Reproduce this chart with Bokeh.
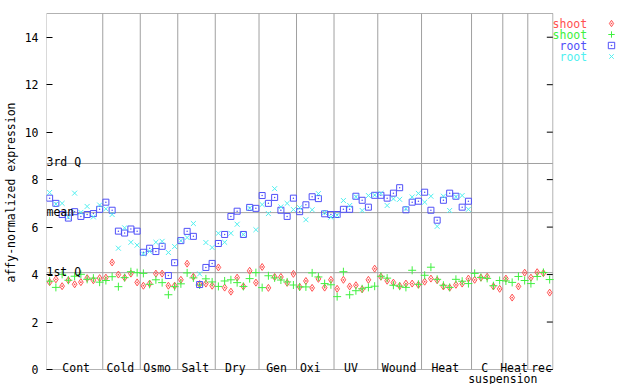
import numpy as np
from bokeh.plotting import figure
from bokeh.models import (Label, Legend, LegendItem, Range1d, BoxAnnotation,
                          ColumnDataSource, FixedTicker)
from bokeh.embed import file_html
from bokeh.resources import INLINE

# ---------------- data ----------------
categories = ["Cont", "Cold", "Osmo", "Salt", "Dry", "Gen", "Oxi", "UV",
              "Wound", "Heat", "C", "Heat", "rec"]
category_label_x = [4.75, 11.8, 17.7, 23.8, 30.2, 36.8, 42.2, 48.7, 56.4,
                    63.8, 70.1, 74.8, 79.2]
section_bounds = [9, 15, 21, 27, 34, 40, 46, 53, 60, 68, 73, 77]
sub_label = "suspension"
sub_label_x = 73.0

quartile_names = ["3rd Q", "mean", "1st Q"]
quartile_values = [8.68, 6.61, 4.08]

series_names = ["shoot", "shoot", "root", "root"]

shoot_red = [3.68, 3.80, 3.51, 3.76, 3.59, 3.68, 3.85, 3.76, 3.85,
             3.87, 4.51, 4.00, 3.87, 4.04, 3.67,
             3.53, 3.62, 4.04, 4.04, 3.53, 3.53,
             3.78, 4.46, 3.91, 3.60, 3.62, 3.53,
             4.30, 3.45, 3.28, 3.87, 3.50, 4.16, 3.66,
             4.32, 3.44, 3.90, 3.90, 3.65, 4.03,
             3.48, 3.73, 3.44, 3.82, 3.45, 3.78,
             3.40, 3.78, 3.50, 3.55, 3.38, 3.78, 4.25,
             3.91, 3.74, 3.66, 3.52, 3.62, 3.62, 3.57,
             3.70, 3.83, 3.76, 3.50, 3.45, 3.57, 3.62, 3.83,
             3.78, 3.87, 3.91, 3.50, 3.40,
             3.83, 3.03, 3.50, 4.08,
             3.87, 4.10, 4.06, 3.24]

shoot_green = [3.72, 3.46, 4.01, 3.76, 3.93, 4.01, 3.80, 3.85, 3.68,
               3.75, 3.91, 3.49, 3.87, 4.12, 4.08,
               4.05, 3.59, 3.78, 3.66, 3.15, 3.49,
               3.61, 4.07, 3.86, 3.56, 3.82, 3.69,
               3.50, 3.73, 3.78, 3.66, 3.50, 3.83, 4.08,
               3.45, 3.95, 3.86, 3.77, 3.69, 3.56,
               3.48, 3.48, 4.07, 3.90, 3.62, 3.57,
               3.07, 4.12, 3.15, 3.32, 3.40, 3.46, 3.51,
               3.93, 3.85, 3.55, 3.51, 3.46, 4.18, 3.59,
               3.97, 4.31, 3.80, 3.55, 3.46, 3.80, 3.72, 3.62,
               4.05, 3.88, 3.84, 3.53, 3.75,
               3.73, 3.67, 3.92, 3.75,
               3.62, 3.92, 4.09, 3.79]

root_blue = [7.22, 7.00, 6.53, 6.38, 6.65, 6.45, 6.53, 6.57, 6.75,
             7.05, 6.71, 5.83, 5.75, 5.92, 5.83,
             4.94, 5.11, 4.97, 5.19, 3.96, 4.50,
             5.43, 5.82, 5.61, 3.58, 4.30, 4.47,
             5.31, 5.69, 6.45, 6.67, 5.69, 6.83, 6.79,
             7.33, 7.00, 7.25, 6.71, 6.45, 7.22,
             6.65, 6.94, 7.28, 7.20, 6.56, 6.53,
             6.53, 6.75, 6.75, 7.30, 7.13, 6.84, 7.34,
             7.34, 7.22, 7.43, 7.66, 6.73, 7.05, 7.09,
             7.47, 6.71, 6.29, 7.13, 7.43, 7.30, 6.84, 7.09]

root_cyan = [7.46, 6.97, 7.00, 6.42, 7.43, 6.62, 6.87, 6.43, 6.93,
             6.77, 6.53, 5.11, 5.97, 5.36, 5.24,
             4.87, 4.98, 5.36, 5.40, 4.93, 5.18,
             5.43, 5.56, 6.15, 4.03, 5.35, 5.14,
             5.74, 5.36, 5.74, 6.12, 5.69, 6.80, 5.89,
             6.95, 6.57, 7.62, 6.85, 7.00, 6.74,
             6.82, 6.31, 6.73, 7.41, 6.61, 6.42,
             6.50, 7.12, 6.91, 7.28, 6.70, 7.33, 7.35,
             7.42, 6.91, 7.19, 7.17, 6.78, 7.27, 7.42,
             7.05, 7.30, 6.03, 7.30, 6.70, 7.28, 7.33, 6.75]

y_ticks = [0, 2, 4, 6, 8, 10, 12, 14]
y_max = 15

# ---------------- layout (pixels) ----------------
W, H = 640, 384
BOX_L, BOX_R, BOX_T, BOX_B = 44, 552, 13, 369
n_x = len(shoot_red)
kx = (BOX_R - BOX_L) / n_x          # px per x unit
ky = (BOX_B - BOX_T) / y_max        # px per y unit


def dx(px):
    return (px - BOX_L) / kx


def dy(py):
    return (BOX_B - py) / ky


FONT = "DejaVu Sans Mono"
FS = "11.5px"
RED, GREEN, BLUE, CYAN = "#ff5050", "#40f040", "#5050f8", "#50f0f0"
GRAY = "#a0a0a0"

p = figure(width=W, height=H, output_backend="svg", toolbar_location=None,
           x_range=Range1d(0, dx(W)), y_range=Range1d(dy(H), dy(0)),
           min_border_left=BOX_L, min_border_right=0, min_border_top=0,
           min_border_bottom=0)
p.background_fill_color = "white"
p.border_fill_color = "white"
p.outline_line_color = None
p.xgrid.visible = False
p.ygrid.visible = False
p.xaxis.visible = False

ya = p.yaxis[0]
ya.ticker = FixedTicker(ticks=y_ticks)
ya.axis_line_color = None
ya.major_tick_in = 6
ya.major_tick_out = 0
ya.minor_tick_in = 0
ya.minor_tick_out = 0
ya.major_tick_line_color = "black"
ya.major_label_standoff = 8
ya.major_label_text_font = FONT
ya.major_label_text_font_size = FS
ya.major_label_text_color = "black"
ya.axis_label = "affy-normalized expression"
ya.axis_label_text_font = FONT
ya.axis_label_text_font_size = FS
ya.axis_label_text_font_style = "normal"
ya.axis_label_text_color = "black"
ya.axis_label_standoff = 4

# separator and quartile lines (only inside the plot box)
sep = ColumnDataSource(dict(x=section_bounds,
                            y0=[0] * len(section_bounds),
                            y1=[y_max] * len(section_bounds)))
p.segment(x0="x", y0="y0", x1="x", y1="y1", source=sep,
          line_color=GRAY, line_width=1)
qs = ColumnDataSource(dict(y=quartile_values,
                           x0=[0] * len(quartile_values),
                           x1=[n_x] * len(quartile_values)))
p.segment(x0="x0", y0="y", x1="x1", y1="y", source=qs,
          line_color=GRAY, line_width=1)

# right-hand inward ticks
rt = ColumnDataSource(dict(y=y_ticks, x0=[n_x] * len(y_ticks),
                           x1=[n_x - 6 / kx] * len(y_ticks)))
p.segment(x0="x0", y0="y", x1="x1", y1="y", source=rt,
          line_color="black", line_width=1)

# plot box
p.add_layout(BoxAnnotation(left=0, right=n_x, bottom=0, top=y_max,
                           fill_alpha=0, line_color="black", line_width=1,
                           level="underlay"))

for txt, q in zip(quartile_names, quartile_values):
    p.add_layout(Label(x=0, y=q, text=txt, text_font=FONT, text_font_size=FS,
                       text_align="left", text_baseline="alphabetic",
                       y_offset=1, text_color="black"))

for txt, xp in zip(categories, category_label_x):
    p.add_layout(Label(x=xp, y=0, text=txt, text_font=FONT, text_font_size=FS,
                       text_align="center", text_baseline="alphabetic",
                       y_offset=1.5, text_color="black"))
p.add_layout(Label(x=sub_label_x, y=dy(378), text=sub_label,
                   text_font=FONT, text_font_size=FS, text_align="center",
                   text_baseline="alphabetic", text_color="black"))

xs_shoot = np.arange(len(shoot_red)) + 0.5
xs_root = np.arange(len(root_blue)) + 0.5

r_red = p.scatter(xs_shoot, shoot_red, marker="diamond_dot", size=7,
                  line_color=RED, fill_color=None, line_width=1)
r_green = p.scatter(xs_shoot, shoot_green, marker="cross", size=8,
                    line_color=GREEN, line_width=1)
r_blue = p.scatter(xs_root, root_blue, marker="square_dot", size=6,
                   line_color=BLUE, fill_color=None, line_width=1)
r_cyan = p.scatter(xs_root, root_cyan, marker="x", size=7,
                   line_color=CYAN, line_width=1)

renderers = [r_red, r_green, r_blue, r_cyan]
colors = [RED, GREEN, BLUE, CYAN]
row_centers = [23.3, 34.3, 45.3, 56.3]  # px from top
for name, col, r, cy in zip(series_names, colors, renderers, row_centers):
    p.add_layout(Label(x=dx(586.5), y=dy(cy), text=name,
                       text_font=FONT, text_font_size=FS, text_align="right",
                       text_baseline="middle", text_color=col))
    lg = Legend(items=[LegendItem(label=" ", renderers=[r])],
                location=(609.3 - 8 - BOX_L, H - (cy + 8)),
                glyph_width=16, glyph_height=16, padding=0, margin=0,
                spacing=0, label_width=0, label_height=16, label_standoff=0,
                label_text_font_size="1px", border_line_alpha=0,
                background_fill_alpha=0)
    p.add_layout(lg)

open("out.html", "w").write(file_html(p, INLINE))
